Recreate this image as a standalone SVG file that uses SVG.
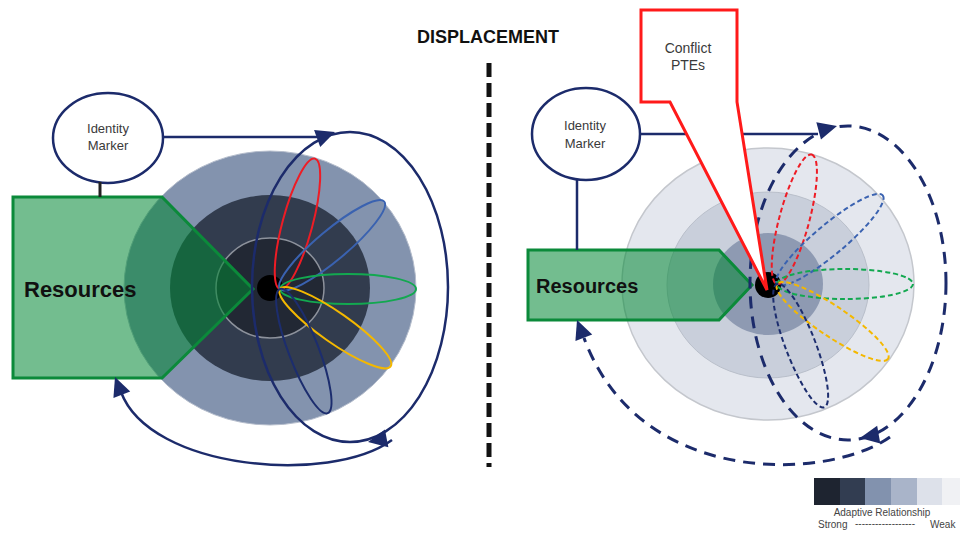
<svg xmlns="http://www.w3.org/2000/svg" xmlns:xlink="http://www.w3.org/1999/xlink" width="962" height="537" viewBox="0 0 962 537">
<defs>
<style>
text{font-family:"Liberation Sans",Arial,sans-serif;}
.lbl{font-size:13px;fill:#3a3a3a;text-anchor:middle;}
.big{font-size:14px;}
.res{font-weight:bold;fill:#111;}
.idm{fill:#fff;stroke:#1c2b6b;stroke-width:2.5;}
.pent{fill:#008733;fill-opacity:0.55;stroke:#0b8a3a;stroke-width:3;}
.conn{fill:none;stroke:#1c2b6b;stroke-width:2.5;}
.dconn{fill:none;stroke:#1c2b6b;stroke-width:3;stroke-dasharray:12 8;}
.pet{fill:none;stroke-width:2;}
.dpet{fill:none;stroke-width:2;stroke-dasharray:5 3;}
.ah{fill:#1c2b6b;}
</style>
<path id="ah" d="M0,0 L-19,-9 L-19,9 Z"/>
</defs>
<rect width="962" height="537" fill="#fff"/>

<!-- Title and divider -->
<g id="title">
<text x="488" y="43" font-size="18" font-weight="bold" text-anchor="middle" fill="#111">DISPLACEMENT</text>
</g>
<g id="divider">
<line x1="489" y1="63" x2="489" y2="467" stroke="#111" stroke-width="5" stroke-dasharray="14 6"/>
</g>

<!-- LEFT: rings -->
<g id="left-rings">
<ellipse cx="270" cy="288" rx="146" ry="137" fill="#8393ae" stroke="#b5bdcc" stroke-width="1"/>
<ellipse cx="270" cy="288" rx="100" ry="93" fill="#323c4e"/>
<ellipse cx="270" cy="288" rx="54" ry="50" fill="#222834" stroke="#8d929c" stroke-width="1.5"/>
</g>
<g id="left-resources">
<polygon class="pent" points="13,197 162,197 253,289 162,378 13,378"/>
<text class="res" x="24" y="297" font-size="22">Resources</text>
</g>
<g id="left-core">
<circle cx="270" cy="288" r="13" fill="#000"/>
</g>
<g id="left-ptes" transform="translate(280,289)">
<ellipse class="pet" stroke="#ee1c25" transform="rotate(-75)" cx="67.5" cy="0" rx="67.5" ry="15"/>
<ellipse class="pet" stroke="#3a62b0" transform="rotate(-40)" cx="68" cy="0" rx="68" ry="15"/>
<ellipse class="pet" stroke="#13a850" cx="68" cy="0" rx="68" ry="15"/>
<ellipse class="pet" stroke="#f4b800" transform="rotate(35)" cx="67.5" cy="0" rx="67.5" ry="15"/>
<ellipse class="pet" stroke="#1c2d6e" transform="rotate(69)" cx="66.5" cy="0" rx="66.5" ry="15"/>
</g>
<g id="left-identity">
<ellipse class="idm" cx="108" cy="138" rx="55" ry="45"/>
<text class="lbl" x="108" y="133">Identity</text>
<text class="lbl" x="108" y="150">Marker</text>
</g>

<!-- RIGHT: rings -->
<g id="right-rings">
<ellipse cx="768" cy="284" rx="146" ry="136" fill="#e4e7ee" stroke="#c4c7cd" stroke-width="1.5"/>
<ellipse cx="768" cy="285" rx="101" ry="93" fill="#c9cfdb" stroke="#b9bfca" stroke-width="1"/>
<ellipse cx="768" cy="284" rx="55" ry="51" fill="#8e9ab2"/>
</g>
<g id="right-resources">
<polygon class="pent" points="528,250 719,250 752,285 719,320 528,320"/>
<text class="res" x="536" y="293" font-size="20">Resources</text>
</g>
<g id="right-core">
<circle cx="768" cy="285" r="13" fill="#000"/>
</g>

<!-- Connectors -->
<g id="connectors">
<line x1="100" y1="182" x2="100" y2="197" stroke="#222" stroke-width="3"/>
<line class="conn" x1="163" y1="137" x2="320" y2="137"/>
<ellipse class="conn" cx="350" cy="287" rx="98" ry="155"/>
<path class="conn" d="M392,440 C330,485 150,470 121,392"/>
<use href="#ah" xlink:href="#ah" class="ah" transform="translate(335,132) rotate(-20)"/>
<use href="#ah" xlink:href="#ah" class="ah" transform="translate(368,442) rotate(169)"/>
<use href="#ah" xlink:href="#ah" class="ah" transform="translate(115,377) rotate(-111)"/>

<line x1="577" y1="179" x2="577" y2="250" stroke="#1c2b6b" stroke-width="2.5"/>
<line class="conn" x1="641" y1="134" x2="818" y2="134"/>
<ellipse class="dconn" cx="848" cy="283" rx="98" ry="157"/>
<path class="dconn" d="M890,437 C830,480 640,490 584,338"/>
<use href="#ah" xlink:href="#ah" class="ah" transform="translate(837,126) rotate(-15)"/>
<use href="#ah" xlink:href="#ah" class="ah" transform="translate(860,438) rotate(170)"/>
<use href="#ah" xlink:href="#ah" class="ah" transform="translate(577,320) rotate(-111)"/>
</g>

<g id="conflict-ptes">
<path d="M641,10 H737 V102 L767,290 L670,102 H641 Z" fill="#fff" stroke="#ff1a1a" stroke-width="3" stroke-linejoin="miter"/>
<text class="lbl big" x="688" y="53">Conflict</text>
<text class="lbl big" x="688" y="70">PTEs</text>
</g>

<g id="right-ptes" transform="translate(777,284)">
<ellipse class="dpet" stroke="#ee1c25" transform="rotate(-75)" cx="67" cy="0" rx="67" ry="15"/>
<ellipse class="dpet" stroke="#3a62b0" transform="rotate(-40)" cx="69" cy="0" rx="69" ry="15"/>
<ellipse class="dpet" stroke="#13a850" cx="68" cy="0" rx="68" ry="15"/>
<ellipse class="dpet" stroke="#f4b800" transform="rotate(34)" cx="67" cy="0" rx="67" ry="15"/>
<ellipse class="dpet" stroke="#1c2d6e" transform="rotate(69)" cx="66" cy="0" rx="66" ry="15"/>
</g>
<g id="right-identity">
<ellipse class="idm" cx="586" cy="134" rx="54" ry="46"/>
<text class="lbl" x="585" y="130">Identity</text>
<text class="lbl" x="585" y="148">Marker</text>
</g>

<!-- Legend -->
<g id="legend">
<rect x="814" y="478" width="26" height="27" fill="#1e2430"/>
<rect x="840" y="478" width="25" height="27" fill="#323d51"/>
<rect x="865" y="478" width="26" height="27" fill="#8292ae"/>
<rect x="891" y="478" width="26" height="27" fill="#a9b4c9"/>
<rect x="917" y="478" width="25" height="27" fill="#dde1ea"/>
<rect x="942" y="478" width="18" height="27" fill="#f0f1f4"/>
<text x="882" y="516" font-size="10" text-anchor="middle" fill="#444">Adaptive Relationship</text>
<text x="818" y="528" font-size="10" fill="#444">Strong</text>
<text x="855" y="527" font-size="10" fill="#444" textLength="60" lengthAdjust="spacingAndGlyphs">------------------</text>
<text x="930" y="528" font-size="10" fill="#444">Weak</text>
</g>
</svg>
